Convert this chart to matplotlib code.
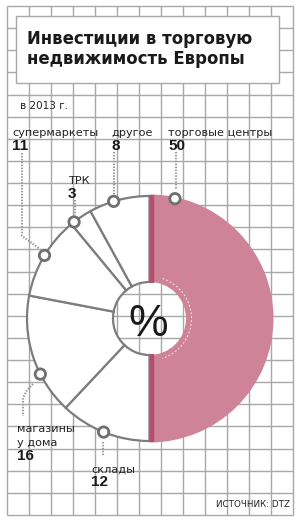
import matplotlib
matplotlib.use('Agg')
import matplotlib.pyplot as plt
from matplotlib.patches import Wedge, Circle, Rectangle, Arc
from matplotlib import font_manager as fm
import numpy as np

# ---------------- data ----------------
title_lines = ['Инвестиции в торговую', 'недвижимость Европы']
subtitle = 'в 2013 г.'
source = 'ИСТОЧНИК: DTZ'
# clockwise from 12 o'clock
categories = ['торговые центры', 'склады', 'магазины\nу дома', 'супермаркеты', 'ТРК', 'другое']
values = [50, 12, 16, 11, 3, 8]

# ---------------- layout / style ----------------
W, H = 300, 525
CX, CY = 149.5, 318.5
R_PINK, R_WHITE, R_IN = 124, 122.5, 36.5
PINK, PINK_DARK = '#ce8399', '#b4506e'
GRAY, GRID, DOT = '#7d7d7d', '#a8a8a8', '#9a9a9a'

# marker angle (deg) per category and label anchor (x, baseline y of first line)
marker_angles = [78, 248, 207, 149, 128, 107]
label_pos = [(168, 136.5), (91, 473), (17, 432), (12, 136.5), (68, 184.5), (111, 136.5)]
num_pos = [(168, 150), (91, 486.5), (17, 460), (12, 150), (68, 198), (111, 150)]
leaders = [
    [(176, 152), (176, 190)],
    [(103, 442), (103, 456)],
    [(33, 384), (27, 390), (23, 398), (23, 416)],
    [(22, 153), (22, 236), (40, 249)],
    [(75, 200), (75, 215)],
    [(114, 152), (114, 196)],
]


def pick(fams):
    for f in fams:
        try:
            fm.findfont(fm.FontProperties(family=f), fallback_to_default=False)
            return f
        except Exception:
            pass
    return 'DejaVu Sans'

NARROW = pick(['Liberation Sans Narrow', 'DejaVu Sans'])
BOLDF = pick(['Liberation Sans', 'DejaVu Sans'])

fig = plt.figure(figsize=(W / 100, H / 100), dpi=100)
ax = fig.add_axes([0, 0, 1, 1])
ax.set_xlim(0, W)
ax.set_ylim(H, 0)
ax.axis('off')

# grid
gx = [7 + 22 * k for k in range(14)]
gy = [6 + 22.13 * k for k in range(24)]
for x in gx:
    ax.plot([x, x], [gy[0], gy[-1]], color=GRID, lw=1.0, zorder=1, solid_capstyle='butt')
for y in gy:
    ax.plot([gx[0], gx[-1]], [y, y], color=GRID, lw=1.0, zorder=1, solid_capstyle='butt')

# title box
ax.add_patch(Rectangle((16, 16), 263, 67, facecolor='white', edgecolor=GRID, lw=1.0, zorder=2))


def pt(a, r):
    return CX + r * np.cos(np.radians(a)), CY - r * np.sin(np.radians(a))


# wedges
start = 90.0
for i, (c, v) in enumerate(zip(categories, values)):
    end = start - v * 3.6
    if i == 0:
        ax.add_patch(Wedge((CX, CY), R_PINK, -start, -end, width=R_PINK - R_IN,
                           facecolor=PINK, edgecolor='none', zorder=3))
    else:
        ax.add_patch(Wedge((CX, CY), R_WHITE, -start, -end, width=R_WHITE - R_IN,
                           facecolor='white', edgecolor=GRAY, lw=1.6, zorder=3))
    start = end

# dark strip on pink edge
ax.plot([CX + 2, CX + 2], [CY - R_PINK, CY - R_IN + 1], color=PINK_DARK, lw=3.2, zorder=4, solid_capstyle='butt')
ax.plot([CX + 2, CX + 2], [CY + R_IN - 1, CY + R_PINK - 1], color=PINK_DARK, lw=3.2, zorder=4, solid_capstyle='butt')
# faint dashed arc in pink
ax.add_patch(Arc((CX, CY), 2 * 42, 2 * 42, theta1=-72, theta2=72, color='white', lw=0.7,
                 ls=(0, (2, 2)), alpha=0.8, zorder=4))

# leaders
for path in leaders:
    xs, ys = zip(*path)
    ax.plot(xs, ys, color=DOT, lw=1.5, ls=(0, (0.7, 0.7)), zorder=5)

# markers
for a in marker_angles:
    x, y = pt(a, R_WHITE)
    ax.add_patch(Circle((x, y), 5.2, facecolor='white', edgecolor='#6f6f6f', lw=2.0, zorder=6))

fig.canvas.draw()
rend = fig.canvas.get_renderer()


def fit(t, width):
    bb = t.get_window_extent(rend)
    t.set_fontsize(t.get_fontsize() * width / bb.width)


# title
t1 = ax.text(27, 43.5, title_lines[0], fontfamily=NARROW, fontweight='bold', fontsize=14,
             color='#1a1a1a', va='baseline', zorder=7)
fit(t1, 226)
ax.text(27, 64.5, title_lines[1], fontfamily=NARROW, fontweight='bold', fontsize=t1.get_fontsize(),
        color='#1a1a1a', va='baseline', zorder=7)

ts = ax.text(20, 109, subtitle, fontfamily=NARROW, fontsize=8, color='#222222', va='baseline', zorder=7)
fit(ts, 48)

# labels
tl = ax.text(*label_pos[3], categories[3], fontfamily=NARROW, fontsize=10, color='#222222',
             va='baseline', zorder=7)
fit(tl, 86)
lfs = tl.get_fontsize()
for i, c in enumerate(categories):
    if i == 3:
        continue
    lines = c.split('\n')
    for j, ln in enumerate(lines):
        ax.text(label_pos[i][0], label_pos[i][1] + j * 14, ln, fontfamily=NARROW, fontsize=lfs,
                color='#222222', va='baseline', zorder=7)

for i, v in enumerate(values):
    ax.text(*num_pos[i], str(v), fontfamily=BOLDF, fontweight='bold', fontsize=11,
            color='#1a1a1a', va='baseline', zorder=7)

# percent sign
ax.text(CX - 1, 336, '%', fontfamily=BOLDF, fontweight='normal', fontsize=32,
        color='#1a1a1a', ha='center', va='baseline', zorder=7)

tsrc = ax.text(290.5, 507, source, fontfamily=NARROW, fontsize=7, color='#222222',
               ha='right', va='baseline', zorder=7)
fit(tsrc, 74)

fig.savefig('out.png', dpi=100)
